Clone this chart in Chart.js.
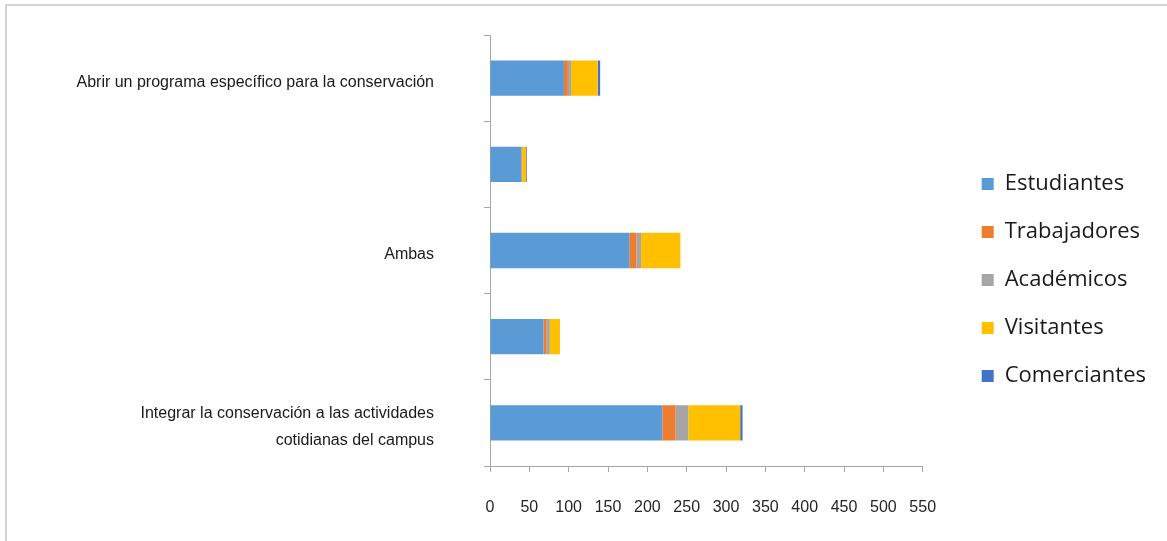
<!DOCTYPE html>
<html>
<head>
<meta charset="utf-8">
<script src="https://cdn.jsdelivr.net/npm/chart.js@4/dist/chart.umd.min.js"></script>
<style>
  html, body { margin: 0; padding: 0; background: #fff; overflow: hidden; }
  #wrap { position: relative; width: 1167px; height: 541px; }
  #frame { position: absolute; left: 5px; top: 4px; width: 1200px; height: 600px; border-left: 2px solid #d4d4d4; border-top: 2px solid #d4d4d4; pointer-events: none; }
  canvas { position: absolute; left: 0; top: 0; }
</style>
</head>
<body>
<div id="wrap">
  <canvas id="chart" width="1167" height="541"></canvas>
  <div id="frame"></div>
</div>
<script>
// categories, top to bottom (unlabelled ones are blank in the original)
const categories = [
  "Abrir un programa específico para la conservación",
  "",
  "Ambas",
  "",
  ["Integrar la conservación a las actividades", "cotidianas del campus"]
]
const estudiantes  = [94, 40, 177, 68, 219]
const trabajadores = [5, 1, 9, 4, 17]
const academicos   = [4, 0, 6, 4, 16]
const visitantes   = [34, 5, 50, 13, 66]
const comerciantes = [3, 1, 0, 0, 3]
const xTicks = [0, 50, 100, 150, 200, 250, 300, 350, 400, 450, 500, 550]

const axisGray = '#a6a6a6'

const series = [
  { label: 'Estudiantes',  data: estudiantes,  color: '#5b9bd5' },
  { label: 'Trabajadores', data: trabajadores, color: '#ed7d31' },
  { label: 'Académicos',   data: academicos,   color: '#a5a5a5' },
  { label: 'Visitantes',   data: visitantes,   color: '#ffc000' },
  { label: 'Comerciantes', data: comerciantes, color: '#4472c4' },
]

// nudge the legend to where Excel puts it
const legendNudge = {
  id: 'legendNudge',
  afterLayout(chart) {
    const lg = chart.legend
    lg.left += 33; lg.right += 33
    lg.top -= 3; lg.bottom -= 3
  }
}

new Chart(document.getElementById('chart'), {
  type: 'bar',
  data: {
    labels: categories,
    datasets: series.map(s => ({
      label: s.label,
      data: s.data,
      backgroundColor: s.color,
      borderWidth: 0,
      barPercentage: 0.41,
      categoryPercentage: 1.0
    }))
  },
  plugins: [legendNudge],
  options: {
    indexAxis: 'y',
    responsive: false,
    animation: false,
    layout: { padding: { left: 6, top: 35, right: 44, bottom: 10 } },
    plugins: {
      tooltip: { enabled: false },
      legend: {
        position: 'right',
        labels: {
          boxWidth: 12,
          boxHeight: 12,
          padding: 26,
          color: '#1a1a1a',
          font: { family: 'Open Sans', size: 22 }
        }
      }
    },
    scales: {
      x: {
        stacked: true,
        min: 0,
        max: 550,
        afterBuildTicks: (scale) => { scale.ticks = xTicks.map(v => ({ value: v })) },
        afterFit: (scale) => { scale.height = 65; scale.paddingLeft = 0; scale.paddingRight = 0 },
        grid: { drawOnChartArea: false, tickLength: 6, color: axisGray },
        border: { color: axisGray, width: 1 },
        ticks: {
          padding: 26,
          color: '#262626',
          maxRotation: 0,
          font: { family: 'Liberation Sans', size: 16 }
        }
      },
      y: {
        stacked: true,
        afterFit: (scale) => { scale.width = 484; scale.paddingTop = 0; scale.paddingBottom = 0 },
        grid: { drawOnChartArea: false, offset: true, tickLength: 6, color: axisGray },
        border: { color: axisGray, width: 1 },
        ticks: {
          padding: 50,
          labelOffset: 4,
          autoSkip: false,
          color: '#1a1a1a',
          font: { family: 'Liberation Sans', size: 16, lineHeight: 1.65 }
        }
      }
    }
  }
})
</script>
</body>
</html>
